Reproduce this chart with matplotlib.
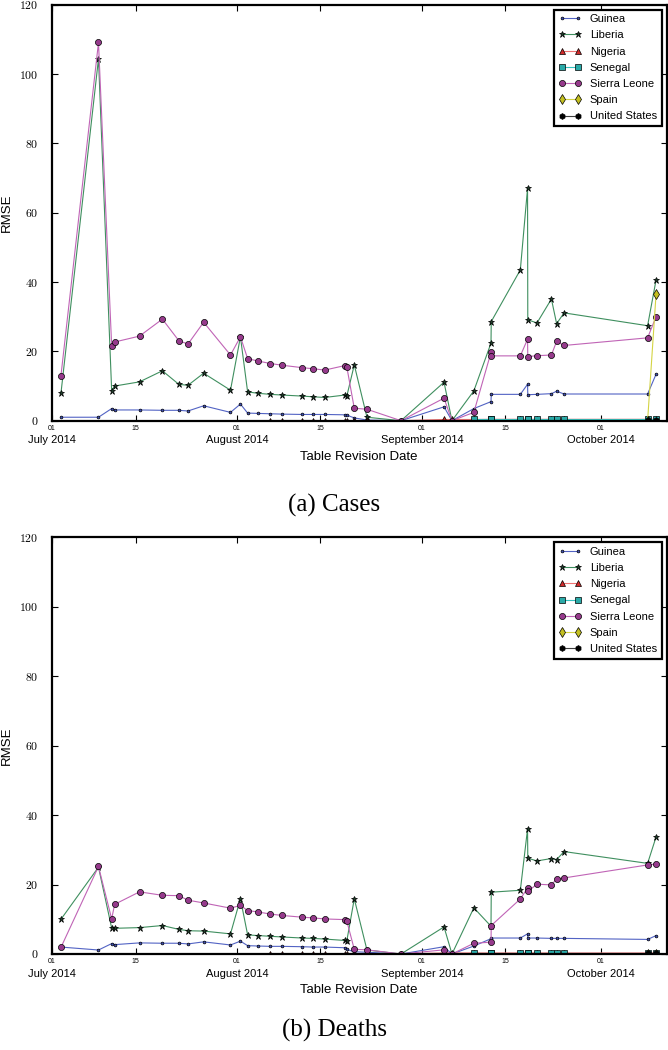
import numpy as np
import matplotlib
matplotlib.use("Agg")
import matplotlib.pyplot as plt
import matplotlib.dates as mdates
from matplotlib.ticker import FuncFormatter
import pandas as pd

plt.rcParams['font.family'] = ['Liberation Sans', 'DejaVu Sans']
plt.rcParams['mathtext.fontset'] = 'cm'

nan = np.nan

revision_dates = [
    "2014-07-02 12:00", "2014-07-08 19:00", "2014-07-11 00:00", "2014-07-11 12:00",
    "2014-07-15 16:00", "2014-07-19 12:00", "2014-07-22 06:00", "2014-07-23 19:00",
    "2014-07-26 10:00", "2014-07-30 22:00", "2014-08-01 14:00", "2014-08-02 19:00",
    "2014-08-04 14:00", "2014-08-06 14:00", "2014-08-08 14:00", "2014-08-11 22:00",
    "2014-08-13 17:00", "2014-08-15 17:00", "2014-08-19 02:00", "2014-08-19 10:00",
    "2014-08-20 16:00", "2014-08-22 19:00", "2014-08-28 12:00", "2014-09-04 17:00",
    "2014-09-06 01:00", "2014-09-09 17:00", "2014-09-12 14:00", "2014-09-12 15:00",
    "2014-09-17 12:00", "2014-09-18 17:00", "2014-09-18 18:00", "2014-09-20 07:00",
    "2014-09-22 17:00", "2014-09-23 14:00", "2014-09-24 20:00", "2014-10-08 20:00",
    "2014-10-10 06:00",
]

countries = ["Guinea", "Liberia", "Nigeria", "Senegal", "Sierra Leone", "Spain", "United States"]

# ---- (a) Cases: RMSE per table revision ----
cases_guinea = [1.0, 1.0, 3.5, 3.1, 3.1, 3.0, 3.0, 2.8, 4.3, 2.4, 4.8, 2.2, 2.1, 2.0, 1.9,
                1.8, 1.8, 1.8, 1.7, 1.6, 0.8, 0.2, 0.0, 4.0, 0.0, 3.5, 5.5, 7.6, 7.6, 10.5,
                7.5, 7.6, 7.8, 8.5, 7.7, 7.7, 13.4]
cases_liberia = [7.9, 104.4, 8.65, 10.0, 11.2, 14.4, 10.5, 10.2, 13.7, 8.8, 24.2, 8.3, 7.9,
                 7.6, 7.4, 7.1, 6.9, 6.7, 7.4, 7.1, 16.1, 1.0, 0.0, 11.1, 0.0, 8.6, 22.4,
                 28.6, 43.5, 67.0, 29.1, 28.2, 35.1, 28.0, 31.1, 27.4, 40.6]
cases_nigeria = [nan] * 13 + [0.0] * 9 + [0.0, 0.35, 0.35, 0.35, 0.4, 0.4, 0.4, 0.4, 0.4,
                                            0.4, 0.4, 0.4, 0.4, 0.4, 0.4]
cases_senegal = [nan] * 25 + [0.5] * 12
cases_sierra_leone = [13.0, 109.1, 21.6, 22.7, 24.4, 29.3, 23.1, 22.1, 28.4, 18.95, 24.2,
                      17.9, 17.2, 16.5, 16.0, 15.3, 15.0, 14.6, 15.9, 15.5, 3.6, 3.3, 0.0,
                      6.5, 0.0, 2.4, 19.7, 18.7, 18.7, 23.5, 18.5, 18.75, 18.95, 22.9, 21.7,
                      23.9, 30.0]
cases_spain = [nan] * 35 + [0.0, 36.5]
cases_united_states = [nan] * 35 + [0.3, 0.3]

# ---- (b) Deaths: RMSE per table revision ----
deaths_guinea = [2.0, 1.15, 3.0, 2.7, 3.2, 3.1, 3.1, 2.9, 3.5, 2.6, 3.7, 2.4, 2.3, 2.2, 2.2,
                 2.1, 2.0, 2.0, 1.8, 1.3, 0.65, 0.5, 0.0, 2.1, 0.0, 2.3, 4.4, 4.6, 4.6, 5.8,
                 4.6, 4.6, 4.5, 4.5, 4.5, 4.2, 5.3]
deaths_liberia = [10.0, 25.0, 7.5, 7.4, 7.6, 8.2, 7.1, 6.7, 6.6, 5.8, 15.9, 5.5, 5.3, 5.1,
                  4.9, 4.6, 4.5, 4.3, 3.9, 3.8, 15.9, 1.15, 0.0, 7.8, 0.0, 13.3, 8.0, 17.8,
                  18.35, 36.0, 27.6, 26.8, 27.5, 27.2, 29.5, 26.1, 33.7]
deaths_nigeria = [nan] * 13 + [0.0] * 9 + [0.0, 0.3, 0.3, 0.3, 0.3, 0.3, 0.3, 0.3, 0.3,
                                             0.3, 0.3, 0.3, 0.3, 0.3, 0.3]
deaths_senegal = [nan] * 25 + [0.2] * 12
deaths_sierra_leone = [1.9, 25.2, 10.1, 14.3, 17.9, 16.9, 16.8, 15.5, 14.7, 13.2, 14.0, 12.5,
                       12.1, 11.5, 11.1, 10.6, 10.4, 10.1, 9.9, 9.5, 1.35, 1.2, 0.0, 1.2, 0.0,
                       3.1, 3.4, 8.2, 15.85, 19.0, 18.0, 20.1, 19.9, 21.6, 21.9, 25.65, 25.9]
deaths_spain = [nan] * 35 + [0.0, 0.0]
deaths_united_states = [nan] * 35 + [0.2, 0.2]

y_ticks = [0, 20, 40, 60, 80, 100, 120]
panel_titles = ["(a) Cases", "(b) Deaths"]
y_label = "RMSE"
x_label = "Table Revision Date"
x_start, x_end = "2014-07-01", "2014-10-12"

# style per country: (line colour, marker, marker face, marker size)
styles = {
    "Guinea": ("#5263c4", ".", "#3f50b8", 4.0),
    "Liberia": ("#3f8f5f", "*", "#1d3f2a", 4.6),
    "Nigeria": ("#f07272", "^", "#cf2a2a", 4.0),
    "Senegal": ("#35c3c0", "s", "#2aaaa8", 3.8),
    "Sierra Leone": ("#c064b6", "o", "#963a8c", 4.4),
    "Spain": ("#d4d444", "d", "#c4c020", 4.6),
    "United States": ("#404040", "h", "#000000", 4.2),
}

dates = pd.to_datetime(revision_dates)
panels = [
    [cases_guinea, cases_liberia, cases_nigeria, cases_senegal, cases_sierra_leone,
     cases_spain, cases_united_states],
    [deaths_guinea, deaths_liberia, deaths_nigeria, deaths_senegal, deaths_sierra_leone,
     deaths_spain, deaths_united_states],
]

W, H = 668, 1050
fig = plt.figure(figsize=(W / 100, H / 100), dpi=100)
ax_rects = [
    [52 / W, (H - 420.7) / H, 614.5 / W, 416 / H],
    [52 / W, (H - 954) / H, 614.5 / W, 416.7 / H],
]
caption_y = [505, 1030]

for rect, series, title, cy in zip(ax_rects, panels, panel_titles, caption_y):
    ax = fig.add_axes(rect)
    for name, vals in zip(countries, series):
        lc, mk, mf, ms = styles[name]
        ax.plot(dates, vals, color=lc, lw=0.8, marker=mk, markerfacecolor=mf,
                markeredgecolor="black", markeredgewidth=0.5, markersize=ms, label=name)
    ax.set_xlim(pd.Timestamp(x_start), pd.Timestamp(x_end))
    ax.set_ylim(0, 120)
    ax.set_yticks(y_ticks)
    ax.yaxis.set_major_formatter(FuncFormatter(lambda v, p: r"$%d$" % v))

    ax.xaxis.set_major_locator(mdates.DayLocator(bymonthday=[1, 15]))
    ax.xaxis.set_major_formatter(mdates.DateFormatter("%d"))
    ax.xaxis.set_minor_locator(mdates.MonthLocator())
    ax.xaxis.set_minor_formatter(mdates.DateFormatter("%B %Y"))
    ax.xaxis.remove_overlapping_locs = False

    ax.tick_params(which="major", direction="in", top=True, right=True,
                   length=4, width=0.8)
    ax.tick_params(axis="x", which="major", labelsize=5, pad=3)
    ax.tick_params(axis="x", which="minor", length=0, labelsize=8, pad=10.5)
    ax.tick_params(axis="y", which="major", labelsize=8.5, pad=10)
    for sp in ax.spines.values():
        sp.set_linewidth(1.6)

    ax.set_ylabel(y_label, fontsize=9.5, labelpad=4)
    ax.set_xlabel(x_label, fontsize=9.5, labelpad=4)

    leg = ax.legend(loc="upper right", fontsize=8, frameon=True, fancybox=False,
                    numpoints=2, handlelength=2.0, labelspacing=0.56,
                    borderaxespad=0.45, borderpad=0.4, handletextpad=0.8)
    leg.get_frame().set_edgecolor("black")
    leg.get_frame().set_linewidth(1.6)
    leg.get_frame().set_alpha(1)

    fig.text(0.5, 1 - cy / H, title, ha="center", va="center",
             family="Liberation Serif", fontsize=18)

fig.savefig("out.png", dpi=100)
